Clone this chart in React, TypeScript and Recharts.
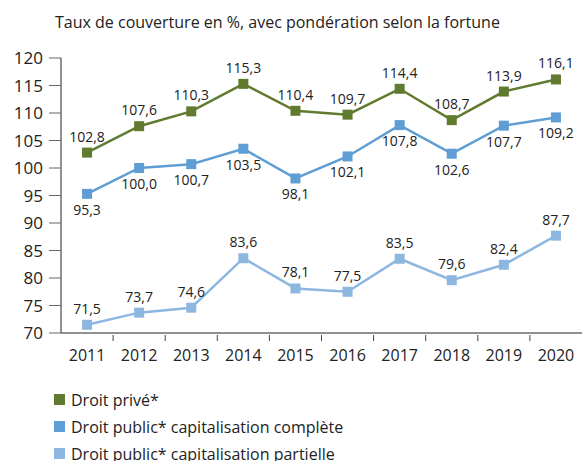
import { LineChart, Line, XAxis, YAxis, LabelList } from 'recharts';

const years = [2011, 2012, 2013, 2014, 2015, 2016, 2017, 2018, 2019, 2020];
const droitPrive = [102.8, 107.6, 110.3, 115.3, 110.4, 109.7, 114.4, 108.7, 113.9, 116.1];
const publicComplete = [95.3, 100.0, 100.7, 103.5, 98.1, 102.1, 107.8, 102.6, 107.7, 109.2];
const publicPartielle = [71.5, 73.7, 74.6, 83.6, 78.1, 77.5, 83.5, 79.6, 82.4, 87.7];
const yTicks = [70, 75, 80, 85, 90, 95, 100, 105, 110, 115, 120];

const title = 'Taux de couverture en %, avec pondération selon la fortune';

const series = [
  { key: 'prive', name: 'Droit privé*', color: '#607a2f', labelPos: 'top' },
  { key: 'complete', name: 'Droit public* capitalisation complète', color: '#5f9dd5', labelPos: 'bottom' },
  { key: 'partielle', name: 'Droit public* capitalisation partielle', color: '#8db7e1', labelPos: 'top' },
];

const data = years.map((year, i) => ({
  year,
  prive: droitPrive[i],
  complete: publicComplete[i],
  partielle: publicPartielle[i],
}));

// labels on the years, small marks between them
const boundaries = years.slice(1).map((y) => y - 0.5);
const xTicks = [...years, ...boundaries].sort((a, b) => a - b);

const font = '"Open Sans", sans-serif';
const fmt = (v: number) => v.toFixed(1).replace('.', ',');

const XTick = (props: any) => {
  const { x, y, payload } = props;
  if (Number.isInteger(payload.value)) {
    return (
      <text x={x} y={y + 20} textAnchor="middle" fontSize={16} fill="#222" fontFamily={font}>
        {payload.value}
      </text>
    );
  }
  return <line x1={x} x2={x} y1={y} y2={y - 6} stroke="#444" strokeWidth={1} />;
};

const Square = (props: any) => {
  const { cx, cy, stroke } = props;
  return <rect x={cx - 5} y={cy - 5} width={10} height={10} fill={stroke} />;
};

export default function App() {
  return (
    <div style={{ position: 'absolute', left: 0, top: 0, width: 582, height: 461, overflow: 'hidden', background: '#fff', fontFamily: font }}>
      <div style={{ position: 'absolute', left: 55, top: 11, fontSize: 16, color: '#222', whiteSpace: 'nowrap' }}>
        {title}
      </div>
      <LineChart width={582} height={461} data={data} margin={{ top: 58, right: 0, bottom: 98, left: 0 }}>
        <XAxis
          dataKey="year"
          type="number"
          domain={[2010.5, 2020.5]}
          ticks={xTicks}
          interval={0}
          tickLine={false}
          tick={<XTick />}
          axisLine={{ stroke: '#222' }}
          height={30}
        />
        <YAxis
          domain={[70, 120]}
          ticks={yTicks}
          interval={0}
          width={61}
          tickSize={12}
          tickMargin={6}
          tickLine={{ stroke: '#666' }}
          axisLine={{ stroke: '#222' }}
          tick={{ fontSize: 17, fill: '#222', fontFamily: font }}
        />
        {series.map((s) => (
          <Line
            key={s.key}
            dataKey={s.key}
            stroke={s.color}
            strokeWidth={2.5}
            dot={<Square />}
            activeDot={false}
            isAnimationActive={false}
          >
            <LabelList
              dataKey={s.key}
              position={s.labelPos as any}
              offset={11}
              formatter={(v: any) => fmt(Number(v))}
              style={{ fontSize: 14, fill: '#222', fontFamily: font }}
            />
          </Line>
        ))}
      </LineChart>
      <div style={{ position: 'absolute', left: 54, top: 386 }}>
        {series.map((s) => (
          <div key={s.key} style={{ display: 'flex', alignItems: 'center', height: 27, fontSize: 16, color: '#222' }}>
            <span style={{ display: 'inline-block', width: 11, height: 11, background: s.color, marginRight: 6 }} />
            {s.name}
          </div>
        ))}
      </div>
    </div>
  );
}
